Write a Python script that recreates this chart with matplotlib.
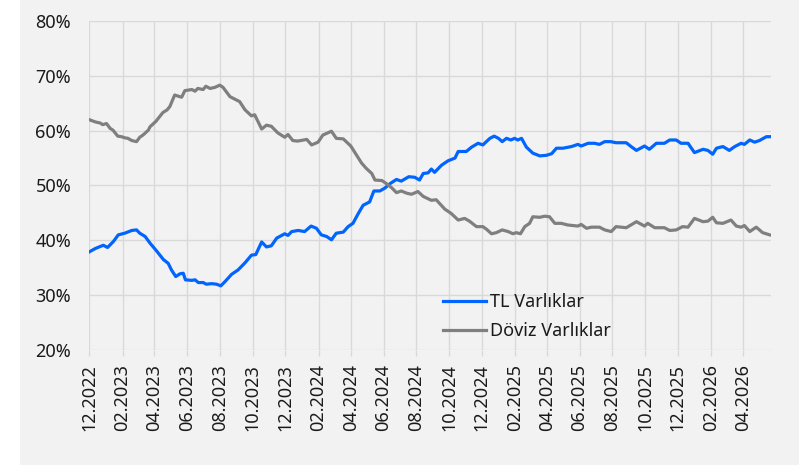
import numpy as np
import pandas as pd
import matplotlib
matplotlib.use("Agg")
import matplotlib.pyplot as plt
import matplotlib.dates as mdates
from matplotlib.patches import Rectangle

plt.rcParams["font.family"] = ["Noto Sans", "DejaVu Sans"]

START = pd.Timestamp("2022-12-01")

# days after START for each reading, and share of total assets (%)
tl_days = [0, 11, 26, 34, 45, 54, 66, 79, 88, 94, 104, 113, 125, 138, 147, 153, 161, 169, 175, 179,
           191, 197, 203, 212, 218, 228, 237, 245, 253, 265, 277, 290, 302, 310, 321, 330, 339, 349,
           364, 370, 377, 389, 401, 413, 423, 432, 442, 451, 460, 473, 482, 491, 501, 510, 522, 530,
           541, 550, 561, 572, 581, 595, 606, 615, 622, 631, 637, 643, 656, 668, 681, 687, 702, 712,
           724, 733, 746, 754, 762, 769, 777, 785, 792, 798, 805, 814, 826, 839, 851, 861, 870, 882,
           898, 910, 916, 929, 941, 950, 960, 971, 981, 1000, 1009, 1019, 1034, 1043, 1056, 1071,
           1081, 1093, 1102, 1115, 1127, 1143, 1152, 1161, 1168, 1180, 1192, 1202, 1214, 1220, 1230,
           1239, 1248, 1261, 1267]
tl_vals = [37.9, 38.5, 39.1, 38.7, 39.8, 41.0, 41.3, 41.8, 41.9, 41.3, 40.7, 39.5, 38.1, 36.5, 35.8,
           34.6, 33.4, 33.9, 34.0, 32.8, 32.7, 32.8, 32.3, 32.3, 32.0, 32.1, 32.0, 31.7, 32.5, 33.8,
           34.6, 35.9, 37.3, 37.4, 39.7, 38.8, 39.0, 40.4, 41.2, 40.9, 41.6, 41.8, 41.6, 42.6, 42.2,
           41.0, 40.7, 40.1, 41.3, 41.5, 42.5, 43.1, 44.9, 46.4, 47.0, 49.0, 49.0, 49.5, 50.4, 51.1,
           50.8, 51.6, 51.5, 51.0, 52.2, 52.3, 53.0, 52.4, 53.7, 54.5, 55.0, 56.2, 56.2, 57.0, 57.7,
           57.4, 58.6, 59.0, 58.6, 58.0, 58.6, 58.3, 58.6, 58.3, 58.6, 57.0, 55.9, 55.4, 55.5, 55.8,
           56.8, 56.8, 57.1, 57.5, 57.2, 57.7, 57.7, 57.5, 58.0, 58.0, 57.8, 57.8, 57.1, 56.4, 57.2,
           56.6, 57.7, 57.7, 58.3, 58.3, 57.7, 57.7, 56.0, 56.6, 56.4, 55.7, 56.8, 57.1, 56.4, 57.1,
           57.7, 57.5, 58.3, 57.9, 58.2, 58.9, 58.9]

fx_days = [0, 11, 20, 25, 32, 39, 44, 53, 60, 66, 72, 79, 88, 94, 100, 110, 113, 124, 137, 145, 150,
           159, 172, 178, 191, 197, 202, 212, 217, 225, 234, 243, 249, 262, 274, 280, 290, 302, 308,
           321, 330, 339, 351, 364, 370, 379, 388, 405, 414, 426, 435, 451, 460, 473, 487, 496, 507,
           516, 526, 532, 545, 554, 563, 572, 581, 591, 600, 612, 622, 637, 646, 662, 674, 687, 699,
           708, 721, 733, 740, 749, 758, 769, 780, 789, 795, 803, 811, 820, 826, 839, 848, 857, 867,
           879, 891, 910, 916, 926, 935, 950, 960, 972, 981, 1000, 1019, 1034, 1040, 1053, 1071,
           1081, 1093, 1105, 1115, 1127, 1143, 1152, 1161, 1168, 1180, 1195, 1205, 1214, 1220, 1230,
           1242, 1254, 1267]
fx_vals = [62.0, 61.6, 61.4, 61.1, 61.3, 60.4, 60.1, 59.0, 58.9, 58.7, 58.6, 58.2, 58.0, 58.8, 59.2,
           60.1, 60.7, 61.7, 63.3, 63.8, 64.4, 66.5, 66.1, 67.3, 67.5, 67.2, 67.7, 67.5, 68.1, 67.7,
           67.9, 68.3, 67.9, 66.2, 65.6, 65.3, 63.8, 62.7, 62.9, 60.3, 61.0, 60.8, 59.6, 58.8, 59.3,
           58.2, 58.1, 58.4, 57.4, 57.9, 59.2, 59.9, 58.6, 58.5, 57.2, 55.8, 54.1, 53.1, 52.2, 51.0,
           50.9, 50.3, 49.6, 48.7, 49.0, 48.6, 48.4, 48.9, 48.0, 47.3, 47.4, 45.7, 44.9, 43.7, 44.0,
           43.5, 42.5, 42.5, 42.0, 41.2, 41.4, 41.9, 41.6, 41.2, 41.4, 41.2, 42.5, 43.1, 44.3, 44.2,
           44.4, 44.3, 43.1, 43.1, 42.8, 42.6, 42.9, 42.2, 42.4, 42.4, 41.9, 41.6, 42.5, 42.3, 43.4,
           42.6, 43.1, 42.3, 42.3, 41.8, 41.9, 42.5, 42.4, 44.0, 43.4, 43.5, 44.2, 43.2, 43.1, 43.7,
           42.6, 42.4, 42.7, 41.6, 42.4, 41.4, 41.0]

END_DAYS = 1269
TICK_MONTHS = pd.date_range("2022-12-01", "2026-04-01", freq="2MS")
Y_TICKS = [20, 30, 40, 50, 60, 70, 80]

BG = "#f2f2f2"
GRID = "#d9d9d9"
TXT = "#1a1a1a"
FS = 13

tl_dates = START + pd.to_timedelta(tl_days, unit="D")
fx_dates = START + pd.to_timedelta(fx_days, unit="D")

fig = plt.figure(figsize=(7.99, 4.69), dpi=100, facecolor="white")
fig.patches.append(Rectangle((20 / 799, 4 / 469), 779 / 799, 465 / 469,
                             transform=fig.transFigure, facecolor=BG, edgecolor="none", zorder=-10))
ax = fig.add_axes([89.3 / 799, 119 / 469, 681.4 / 799, 329 / 469])
ax.set_facecolor(BG)

ax.plot(tl_dates, tl_vals, color="#0064ff", lw=2.3, label="TL Varlıklar", zorder=3)
ax.plot(fx_dates, fx_vals, color="#7f7f7f", lw=2.3, label="Döviz Varlıklar", zorder=3)

ax.set_xlim(START, START + pd.Timedelta(days=END_DAYS))
ax.set_ylim(20, 80)
ax.set_yticks(Y_TICKS)
ax.set_yticklabels([f"{v}%" for v in Y_TICKS])
ax.set_xticks(TICK_MONTHS)
ax.xaxis.set_major_formatter(mdates.DateFormatter("%m.%Y"))
plt.setp(ax.get_xticklabels(), rotation=90)

ax.grid(True, color=GRID, lw=1.0)
ax.set_axisbelow(True)
for s in ax.spines.values():
    s.set_visible(False)
ax.tick_params(axis="y", length=0, pad=13, labelsize=FS, colors=TXT)
ax.tick_params(axis="x", length=4, width=1.0, color=GRID, pad=6, labelsize=FS, labelcolor=TXT)

leg = ax.legend(loc="upper left", bbox_to_anchor=(443 / 799, 1 - 293 / 469),
                bbox_transform=fig.transFigure, frameon=False, fontsize=FS,
                handlelength=2.4, handletextpad=0.2, labelspacing=0.6, borderpad=0,
                borderaxespad=0)
for t in leg.get_texts():
    t.set_color(TXT)

fig.savefig("out.png", dpi=100, facecolor="white")
